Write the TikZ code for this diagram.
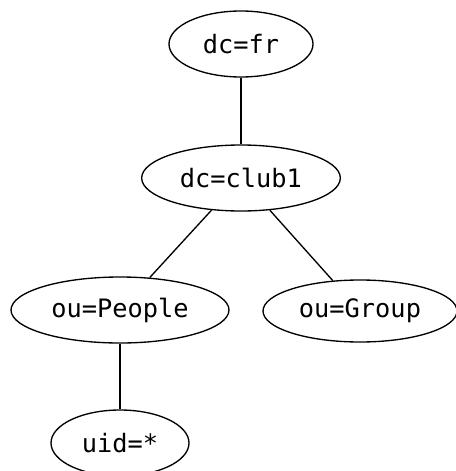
\documentclass[tikz,border=0pt]{standalone}
\usepackage{fontspec}
\setmonofont{DejaVu Sans Mono}
\usetikzlibrary{shapes.geometric}

\begin{document}
\begin{tikzpicture}[x=0.75pt, y=-0.75pt,
      entry/.style={ellipse,draw,line width=1pt,inner sep=0pt,minimum height=49.5pt,
        font=\ttfamily\fontsize{19}{22}\selectfont},
      link/.style={line width=1pt},
      ]
      \useasboundingbox (0,0) rectangle (455,471);
      % \scriptsize
      \node (fr) at (241,44) [entry,minimum width=108pt] {dc=fr};
      \node (club) at (241,178) [entry,minimum width=149pt] {dc=club1};
      \node (people) at (120,310) [entry,minimum width=163.5pt] {ou=People};
      \node (group) at (360,311) [entry,minimum width=145.5pt,minimum height=46.5pt] {ou=Group};
      \node (uid) at (120,443) [entry,minimum width=103.5pt] {uid=*};

      \draw [link] (fr) to node {} (club);
      \draw [link] (club) to node {} (people);
      \draw [link] (club) to node {} (group);
      \draw [link] (people) to node {} (uid);
    \end{tikzpicture}
\end{document}
